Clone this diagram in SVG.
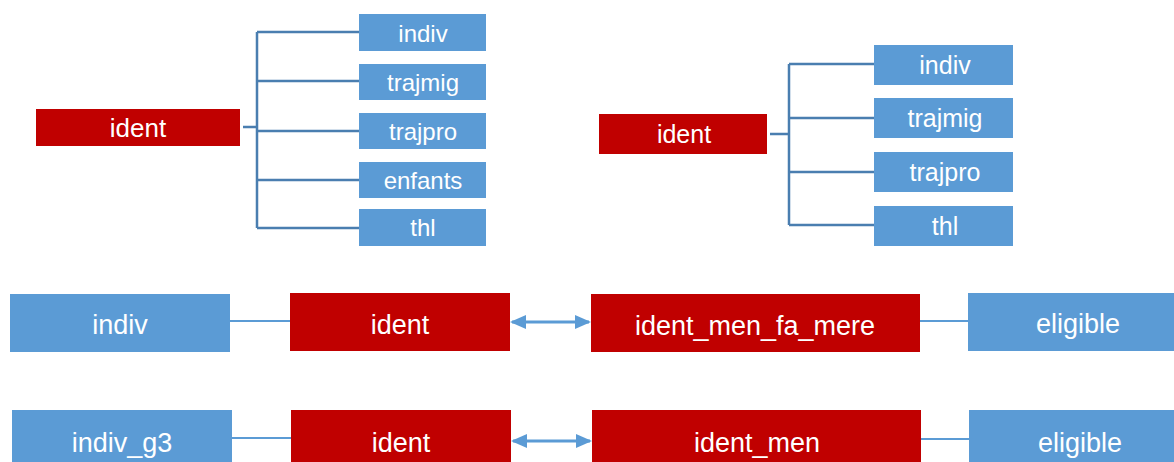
<svg xmlns="http://www.w3.org/2000/svg" width="1174" height="462" viewBox="0 0 1174 462">
<defs>
<style>
.red{fill:#C00000}
.blue{fill:#5B9BD5}
.t{fill:#FFFFFF;font-family:"Liberation Sans","Open Sans",sans-serif;text-anchor:middle}
.s24{font-size:24px}
.s25{font-size:25px}
.s26{font-size:26px}
.s27{font-size:27px}
.tree{stroke:#4A7EB0;stroke-width:2.5;fill:none}
.link{stroke:#5B9BD5;stroke-width:2;fill:none}
.arrow{stroke:#5B9BD5;stroke-width:3;fill:none;marker-start:url(#ah);marker-end:url(#ah)}
</style>
<marker id="ah" viewBox="0 0 16 14" refX="14" refY="7" markerWidth="16" markerHeight="14" markerUnits="userSpaceOnUse" orient="auto-start-reverse">
<path d="M0,0 L16,7 L0,14 Z" fill="#5B9BD5"/>
</marker>
</defs>
<g id="connectors">
<path class="tree" d="M243,127 H257 M257,32 V228 M257,32 H359 M257,81 H359 M257,131 H359 M257,180 H359 M257,228 H359"/>
<path class="tree" d="M770,134 H789 M789,64 V225 M789,64 H874 M789,118 H874 M789,172 H874 M789,225 H874"/>
<line class="link" x1="230" y1="321" x2="290" y2="321"/>
<line class="link" x1="920" y1="321" x2="968" y2="321"/>
<line class="link" x1="232" y1="438" x2="291" y2="438"/>
<line class="link" x1="921" y1="439" x2="969" y2="439"/>
<line class="arrow" x1="512" y1="322" x2="589" y2="322"/>
<line class="arrow" x1="513" y1="441" x2="590" y2="441"/>
</g>
<g id="tl-ident"><rect class="red" x="36" y="109" width="204" height="37"/><text class="t s26" x="138" y="137">ident</text></g>
<g id="tl-indiv"><rect class="blue" x="359" y="14" width="127" height="37"/><text class="t s24" x="423" y="42">indiv</text></g>
<g id="tl-trajmig"><rect class="blue" x="359" y="64" width="127" height="36"/><text class="t s24" x="423" y="91">trajmig</text></g>
<g id="tl-trajpro"><rect class="blue" x="359" y="113" width="127" height="36"/><text class="t s24" x="423" y="140">trajpro</text></g>
<g id="tl-enfants"><rect class="blue" x="359" y="162" width="127" height="36"/><text class="t s24" x="423" y="189">enfants</text></g>
<g id="tl-thl"><rect class="blue" x="359" y="209" width="127" height="37"/><text class="t s24" x="423" y="236">thl</text></g>
<g id="tr-ident"><rect class="red" x="599" y="114" width="168" height="40"/><text class="t s25" x="684" y="143">ident</text></g>
<g id="tr-indiv"><rect class="blue" x="874" y="45" width="139" height="40"/><text class="t s25" x="945" y="74">indiv</text></g>
<g id="tr-trajmig"><rect class="blue" x="874" y="98" width="139" height="40"/><text class="t s25" x="945" y="127">trajmig</text></g>
<g id="tr-trajpro"><rect class="blue" x="874" y="152" width="139" height="40"/><text class="t s25" x="945" y="181">trajpro</text></g>
<g id="tr-thl"><rect class="blue" x="874" y="206" width="139" height="40"/><text class="t s25" x="945" y="235">thl</text></g>
<g id="r1-indiv"><rect class="blue" x="10" y="294" width="220" height="58"/><text class="t s27" x="120" y="334">indiv</text></g>
<g id="r1-ident"><rect class="red" x="290" y="293" width="220" height="58"/><text class="t s27" x="400" y="334">ident</text></g>
<g id="r1-ident_men_fa_mere"><rect class="red" x="591" y="294" width="329" height="58"/><text class="t s27" x="755" y="335">ident_men_fa_mere</text></g>
<g id="r1-eligible"><rect class="blue" x="968" y="293" width="206" height="58"/><text class="t s27" x="1078" y="333">eligible</text></g>
<g id="r2-indiv_g3"><rect class="blue" x="12" y="410" width="220" height="58"/><text class="t s27" x="122" y="452">indiv_g3</text></g>
<g id="r2-ident"><rect class="red" x="291" y="410" width="220" height="58"/><text class="t s27" x="401" y="452">ident</text></g>
<g id="r2-ident_men"><rect class="red" x="592" y="410" width="329" height="58"/><text class="t s27" x="757" y="452">ident_men</text></g>
<g id="r2-eligible"><rect class="blue" x="969" y="410" width="205" height="58"/><text class="t s27" x="1080" y="452">eligible</text></g>
</svg>
